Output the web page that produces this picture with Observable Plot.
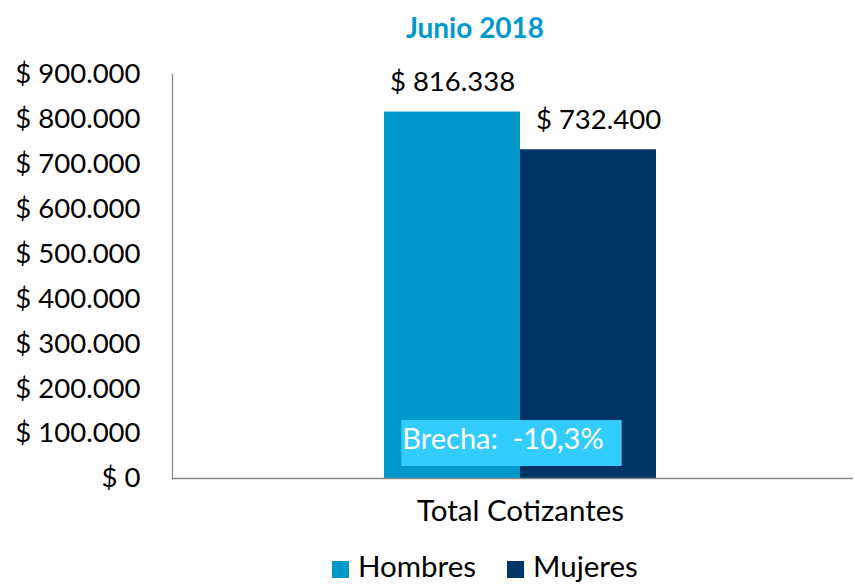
<!DOCTYPE html>
<html><head><meta charset="utf-8">
<script src="https://cdn.jsdelivr.net/npm/d3@7"></script>
<script src="https://cdn.jsdelivr.net/npm/@observablehq/plot@0.6"></script>
<style>
body{margin:0;background:#fff;font-family:Lato, sans-serif;}
#wrap{width:855px;height:586px;position:relative;overflow:hidden;background:#fff}
#title{position:absolute;left:0;top:0;width:950px;height:50px;line-height:54px;text-align:center;font-weight:bold;font-size:28px;color:#0099CC}
#chart{position:absolute;left:0;top:50px}
#legend{position:absolute;left:332px;top:551px;height:30px;line-height:30px;display:flex;align-items:center;gap:31px;font-size:29.5px;color:#000}
#legend .item{display:flex;align-items:center;gap:9px}
#legend .sw{width:17px;height:17px;display:inline-block;margin-top:7px}
</style></head><body>
<div id="wrap"><div id="title"></div><div id="chart"></div><div id="legend"></div></div>
<script>
const title = "Junio 2018";
const category = "Total Cotizantes";
const series = ["Hombres", "Mujeres"];
const values = [816338, 732400];
const colors = ["#0099CC", "#003366"];
const yTicks = [0, 100000, 200000, 300000, 400000, 500000, 600000, 700000, 800000, 900000];
const gapLabel = "Brecha:  -10,3%";

const loc = d3.formatLocale({decimal: ",", thousands: ".", grouping: [3], currency: ["$ ", ""]});
const fmt = loc.format("$,");
const data = series.map((s, i) => ({series: s, value: values[i]}));

document.getElementById("title").textContent = title;

const plot = Plot.plot({
  width: 855, height: 495,
  marginTop: 24, marginBottom: 67, marginLeft: 172, marginRight: 2,
  style: {fontFamily: "Lato, sans-serif", fontSize: "27.5px", color: "#000", background: "transparent", overflow: "visible"},
  x: {domain: series, range: [384, 656], padding: 0, axis: null},
  y: {domain: [0, 900000], ticks: yTicks, tickFormat: fmt, tickSize: 0, tickPadding: 32, label: null},
  color: {domain: series, range: colors},
  marks: [
    Plot.barY(data, {x: "series", y: "value", fill: "series"}),
    Plot.frame({anchor: "left", stroke: "#898989", strokeWidth: 1.3}),
    Plot.ruleY([0], {stroke: "#898989", strokeWidth: 1.3}),
    Plot.text([data[0]], {x: "series", y: "value", text: d => fmt(d.value), dy: -30, fill: "#000"}),
    Plot.text([data[1]], {x: "series", y: "value", text: d => fmt(d.value), dy: -30, dx: 10, fill: "#000"}),
    Plot.text([category], {frameAnchor: "bottom", text: d => d, dx: 7.5, dy: 42, fill: "#000", fontSize: 29.5}),
    Plot.text([gapLabel], {frameAnchor: "bottom", text: d => d, dx: -10, dy: -30, fill: "#fff", fontSize: 29, className: "gaplabel"})
  ]
});
document.getElementById("chart").appendChild(plot);

// background box behind the gap annotation, sized from the text itself
const gt = plot.querySelector(".gaplabel text");
if (gt) {
  const bb = gt.getBBox();
  const cy = bb.y + bb.height / 2;
  const rect = document.createElementNS("http://www.w3.org/2000/svg", "rect");
  rect.setAttribute("x", bb.x - 1);
  rect.setAttribute("y", cy - 17);
  rect.setAttribute("width", bb.width + 19);
  rect.setAttribute("height", 46);
  rect.setAttribute("fill", "#33CCFF");
  const tf = gt.getAttribute("transform");
  if (tf) rect.setAttribute("transform", tf);
  gt.parentNode.insertBefore(rect, gt);
}

const lg = document.getElementById("legend");
series.forEach((s, i) => {
  const it = document.createElement("div");
  it.className = "item";
  const sw = document.createElement("span");
  sw.className = "sw";
  sw.style.background = colors[i];
  const tx = document.createElement("span");
  tx.textContent = s;
  it.appendChild(sw); it.appendChild(tx);
  lg.appendChild(it);
});
</script>
</body></html>
